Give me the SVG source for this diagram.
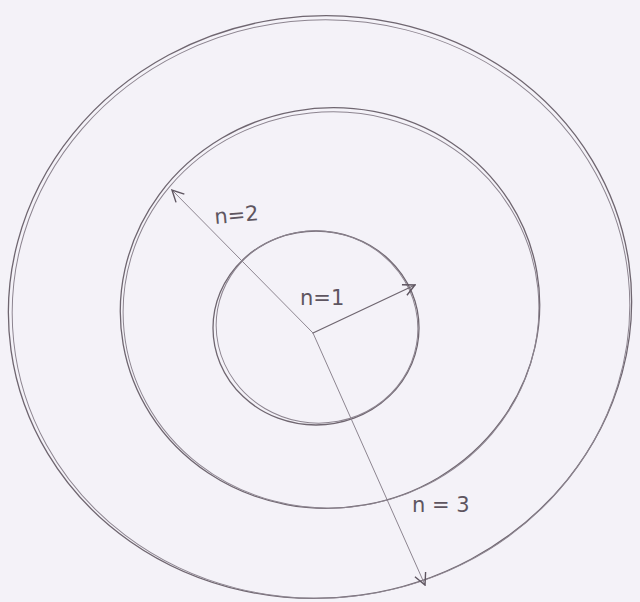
<svg xmlns="http://www.w3.org/2000/svg" width="640" height="602" viewBox="0 0 640 602">
<defs>
<style>
.pen{fill:none;stroke:#6f6670;stroke-width:1.3;stroke-linecap:round}
.pen2{fill:none;stroke:#8d8590;stroke-width:1;stroke-linecap:round}
.lbl{font-family:"DejaVu Sans","Liberation Sans",sans-serif;font-size:21px;fill:#5e5560}
</style>
<marker id="ah" viewBox="0 0 12 12" refX="11" refY="6" markerWidth="14" markerHeight="14" markerUnits="userSpaceOnUse" orient="auto">
<path d="M1,1 L11,6 L1,11" fill="none" stroke="#5e5560" stroke-width="1.2"/>
</marker>
</defs>
<rect width="640" height="602" fill="#f4f2f8"/>
<g id="orbit3">
<ellipse class="pen" cx="320" cy="307" rx="312" ry="291" transform="rotate(-8 320 307)"/>
<ellipse class="pen2" cx="321" cy="309" rx="309" ry="289" transform="rotate(-6 321 309)"/>
</g>
<g id="orbit2">
<ellipse class="pen" cx="330" cy="308" rx="210" ry="200" transform="rotate(-10 330 308)"/>
<ellipse class="pen2" cx="331" cy="310" rx="208" ry="198" transform="rotate(-6 331 310)"/>
</g>
<g id="orbit1">
<ellipse class="pen" cx="316" cy="328" rx="103" ry="97"/>
<ellipse class="pen2" cx="317" cy="327" rx="101" ry="96" transform="rotate(10 317 327)"/>
</g>
<g id="connectors">
<line class="pen" x1="313" y1="333" x2="415" y2="285" marker-end="url(#ah)"/>
<line class="pen2" x1="313" y1="333" x2="172" y2="190" marker-end="url(#ah)"/>
<line class="pen2" x1="313" y1="333" x2="425" y2="585" marker-end="url(#ah)"/>
</g>
<g id="labels">
<text class="lbl" x="214" y="222" transform="rotate(-5 238 212)">n=2</text>
<text class="lbl" x="300" y="305">n=1</text>
<text class="lbl" x="412" y="512">n = 3</text>
</g>
</svg>
